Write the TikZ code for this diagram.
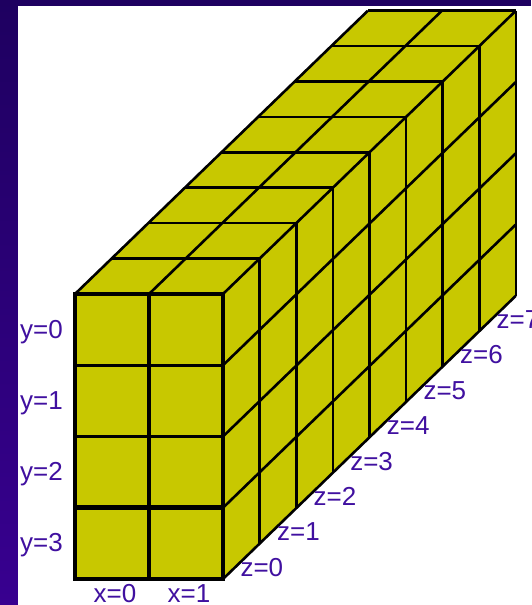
\documentclass[tikz,border=0pt]{standalone}
\usepackage{fontspec}
\setmainfont{Liberation Sans}
\usepackage{xcolor}
\definecolor{cellyellow}{RGB}{200, 200, 0}
\definecolor{labelpurple}{RGB}{64, 16, 160}
\definecolor{bardark}{RGB}{30, 0, 96}
\definecolor{barlight}{RGB}{56, 0, 144}
\tikzset{
    gridlabel/.style={text=labelpurple, inner sep=0pt, font=\fontsize{26}{26}\selectfont},
    gridline/.style={black, line width=2.6pt, line join=round},
    frontline/.style={black, line width=3.4pt, line join=miter},
}

\begin{document}
\begin{tikzpicture}[x={(74pt,0pt)}, y={(0pt,-71.25pt)}, z={(36.6pt,35.4pt)}]
    % Page margins
    \useasboundingbox (-75pt,-311pt) rectangle (456pt,294pt);
    \fill[white] (-75pt,-311pt) rectangle (456pt,294pt);
    \shade[top color=bardark, bottom color=barlight] (-75pt,-311pt) rectangle (-57pt,294pt);
    \fill[bardark] (-57pt,288pt) rectangle (456pt,294pt);

    % Faces
    \fill[cellyellow] (0,0,0) -- (2,0,0) -- (2,0,8) -- (0,0,8) -- cycle;
    \fill[cellyellow] (2,0,0) -- (2,0,8) -- (2,4,8) -- (2,4,0) -- cycle;
    \fill[cellyellow] (0,0,0) rectangle (2,4,0);

    % Top face
    \foreach \x in {0,1,2}
        \draw[gridline] (\x,0,0) -- (\x,0,8);
    \foreach \z in {1,...,8}
        \draw[gridline] (0,0,\z) -- (2,0,\z);

    % Side face
    \foreach \y in {1,...,4}
        \draw[gridline] (2,\y,0) -- (2,\y,8);
    \foreach \z in {1,...,8}
        \draw[gridline] (2,0,\z) -- (2,4,\z);

    % Front face
    \foreach \x in {1}
        \draw[frontline] (\x,0,0) -- (\x,4,0);
    \foreach \y in {1,2}
        \draw[frontline] (0,\y,0) -- (2,\y,0);
    \draw[frontline, line width=4.6pt] (0,3,0) -- (2,3,0);
    \draw[frontline] (0,0,0) rectangle (2,4,0);

    % Labels
    \foreach \x in {0,1}
        \node[gridlabel, xshift=3pt, yshift=-15pt] (xlabel\x) at (\x+0.5,4,0) {x=\x};
    \foreach \y in {0,...,3}
        \node[gridlabel, anchor=east, xshift=-12pt, yshift=-2pt] (ylabel\y) at (0,\y+0.5,0) {y=\y};
    \foreach \z in {0,...,7}
        \node[gridlabel, anchor=west, xshift=-1pt, yshift=-6pt] (zlabel\z) at (2,4,\z+0.5) {z=\z};
\end{tikzpicture}
\end{document}
